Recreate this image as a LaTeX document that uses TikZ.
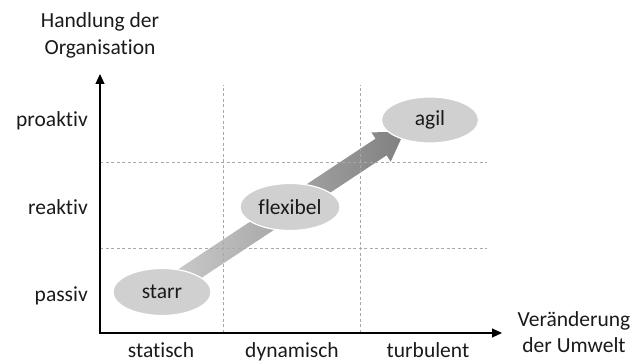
\documentclass[tikz,border=0pt]{standalone}
\usepackage{fontspec}
\setmainfont{Carlito}[Ligatures=NoCommon]
\usetikzlibrary{arrows.meta,shapes.geometric,backgrounds}
\definecolor{stagegray}{HTML}{D0D0D0}
\definecolor{gridgray}{HTML}{A8A8A8}
\definecolor{arrowlight}{HTML}{CFCFCF}
\definecolor{arrowdark}{HTML}{808080}
\definecolor{textdark}{HTML}{1A1A1A}
\begin{document}
\begin{tikzpicture}[x=1pt,y=1pt,
  axisline/.style={line width=1.1pt, {Triangle[length=10pt,width=9pt]}-{Triangle[length=10pt,width=9pt]}},
  gridline/.style={draw=gridgray, line width=0.6pt, dash pattern=on 3pt off 2.5pt},
  stage/.style={ellipse, fill=stagegray, draw=white, line width=1.2pt, inner sep=0pt,
    text=textdark, font=\fontsize{21.5}{25}\selectfont},
  lbl/.style={font=\fontsize{21.5}{26}\selectfont, text=textdark, inner sep=0pt}]
\useasboundingbox (0,0) rectangle (637,363);

% axes
\coordinate (O) at (100,30);
\coordinate (ytip) at (100,289);
\coordinate (xtip) at (502,30);

% dashed grid
\coordinate (v1b) at (223,30);  \coordinate (v1t) at (223,278);
\coordinate (v2b) at (360,30);  \coordinate (v2t) at (360,278);
\coordinate (h1l) at (100,201); \coordinate (h1r) at (487,201);
\coordinate (h2l) at (100,115); \coordinate (h2r) at (487,115);
\draw[gridline] (v1b) -- (v1t);
\draw[gridline] (v2b) -- (v2t);
\draw[gridline] (h1l) -- (h1r);
\draw[gridline] (h2l) -- (h2r);
\draw[axisline] (ytip) -- (O) -- (xtip);

% stages
\node[stage, minimum width=98pt, minimum height=47pt] (starr) at (162,71) {starr};
\node[stage, minimum width=100pt, minimum height=47pt] (flexibel) at (290,156) {flexibel};
\node[stage, minimum width=97pt, minimum height=46pt] (agil) at (430,243) {agil};

% broad shaded arrow behind the stages
\begin{scope}[on background layer]
  \begin{scope}[shift={(starr.center)}, rotate=33.5]
    \path[left color=arrowlight, right color=arrowdark]
      (0,-10) -- (262.7,-10) -- (262.7,-17.5) -- (290.7,0)
      -- (262.7,17.5) -- (262.7,10) -- (0,10) -- cycle;
  \end{scope}
\end{scope}

% axis titles
\node[lbl, anchor=base] (yt1) at (100,335) {Handlung der};
\node[lbl, anchor=base] (yt2) at (100,308) {Organisation};
\node[lbl, anchor=base] (xt1) at (574,36) {Veränderung};
\node[lbl, anchor=base] (xt2) at (574,10) {der Umwelt};

% row labels
\node[lbl, anchor=base east] (pro) at (88,236) {proaktiv};
\node[lbl, anchor=base east] (rea) at (88,148) {reaktiv};
\node[lbl, anchor=base east] (pas) at (88,61) {passiv};

% column labels
\node[lbl, anchor=base] (sta) at (161,5) {statisch};
\node[lbl, anchor=base] (dyn) at (292,5) {dynamisch};
\node[lbl, anchor=base] (tur) at (428,5) {turbulent};
\end{tikzpicture}
\end{document}
